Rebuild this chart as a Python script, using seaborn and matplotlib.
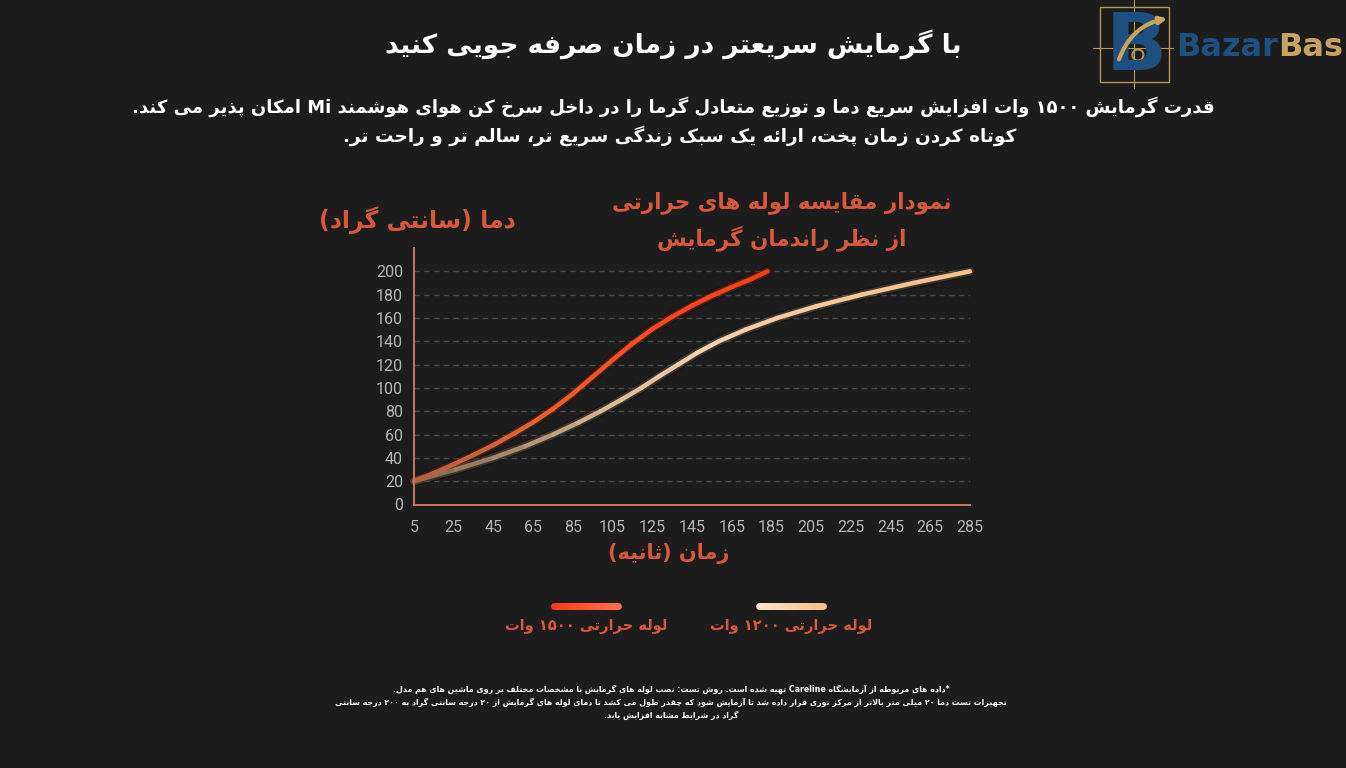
import re
import numpy as np
import pandas as pd
import matplotlib
matplotlib.use("Agg")
import matplotlib.pyplot as plt
import matplotlib.patheffects as pe
from matplotlib.collections import LineCollection
from matplotlib.colors import LinearSegmentedColormap
from matplotlib.patches import Rectangle, Circle
import seaborn as sns

# values (time in seconds, temperature in C)
time_1500 = [5, 15, 25, 35, 45, 55, 65, 75, 85, 95, 105, 115, 125, 135, 145, 155, 165, 175, 183]
temp_1500 = [20, 27, 34.5, 42.5, 51, 60.5, 70.5, 82, 95, 109.5, 124, 138, 150.5, 161, 170.5, 179, 186.5, 193.5, 200]
time_1200 = [5, 26, 45, 61, 75, 87.5, 99, 109.5, 119.5, 128.5, 138, 147.5, 158.5, 172, 188, 207.5, 230.5, 256.5, 285]
temp_1200 = [20, 30, 40, 50, 60, 70, 80, 90, 100, 110, 120, 130, 140, 150, 160, 170, 180, 190, 200]

x_ticks = [5, 25, 45, 65, 85, 105, 125, 145, 165, 185, 205, 225, 245, 265, 285]
y_ticks = [0, 20, 40, 60, 80, 100, 120, 140, 160, 180, 200]

series_names = ["لوله حرارتی ۱۵۰۰ وات", "لوله حرارتی ۱۲۰۰ وات"]

title = "با گرمایش سریعتر در زمان صرفه جویی کنید"
subtitle = ["قدرت گرمایش ۱۵۰۰ وات افزایش سریع دما و توزیع متعادل گرما را در داخل سرخ کن هوای هوشمند Mi امکان پذیر می کند.",
            "کوتاه کردن زمان پخت، ارائه یک سبک زندگی سریع تر، سالم تر و راحت تر."]
chart_title = ["نمودار مقایسه لوله های حرارتی", "از نظر راندمان گرمایش"]
y_label = "دما (سانتی گراد)"
x_label = "زمان (ثانیه)"
footnote = ["*داده های مربوطه از آزمایشگاه Careline تهیه شده است. روش تست: نصب لوله های گرمایش با مشخصات مختلف بر روی ماشین های هم مدل.",
            "تجهیزات تست دما ۲۰ میلی متر بالاتر از مرکز توری قرار داده شد تا آزمایش شود که چقدر طول می کشد تا دمای لوله های گرمایش از ۲۰ درجه سانتی گراد به ۲۰۰ درجه سانتی",
            "گراد در شرایط مشابه افزایش یابد."]

# --- tiny persian shaper (matplotlib has no arabic shaping / bidi) ---
FORMS = {
    '\u0627': ('\uFE8D', '\uFE8E', None, None),
    '\u0622': ('\uFE81', '\uFE82', None, None),
    '\u0628': ('\uFE8F', '\uFE90', '\uFE91', '\uFE92'),
    '\u067E': ('\uFB56', '\uFB57', '\uFB58', '\uFB59'),
    '\u062A': ('\uFE95', '\uFE96', '\uFE97', '\uFE98'),
    '\u062B': ('\uFE99', '\uFE9A', '\uFE9B', '\uFE9C'),
    '\u062C': ('\uFE9D', '\uFE9E', '\uFE9F', '\uFEA0'),
    '\u0686': ('\uFB7A', '\uFB7B', '\uFB7C', '\uFB7D'),
    '\u062D': ('\uFEA1', '\uFEA2', '\uFEA3', '\uFEA4'),
    '\u062E': ('\uFEA5', '\uFEA6', '\uFEA7', '\uFEA8'),
    '\u062F': ('\uFEA9', '\uFEAA', None, None),
    '\u0630': ('\uFEAB', '\uFEAC', None, None),
    '\u0631': ('\uFEAD', '\uFEAE', None, None),
    '\u0632': ('\uFEAF', '\uFEB0', None, None),
    '\u0698': ('\uFB8A', '\uFB8B', None, None),
    '\u0633': ('\uFEB1', '\uFEB2', '\uFEB3', '\uFEB4'),
    '\u0634': ('\uFEB5', '\uFEB6', '\uFEB7', '\uFEB8'),
    '\u0635': ('\uFEB9', '\uFEBA', '\uFEBB', '\uFEBC'),
    '\u0636': ('\uFEBD', '\uFEBE', '\uFEBF', '\uFEC0'),
    '\u0637': ('\uFEC1', '\uFEC2', '\uFEC3', '\uFEC4'),
    '\u0638': ('\uFEC5', '\uFEC6', '\uFEC7', '\uFEC8'),
    '\u0639': ('\uFEC9', '\uFECA', '\uFECB', '\uFECC'),
    '\u063A': ('\uFECD', '\uFECE', '\uFECF', '\uFED0'),
    '\u0641': ('\uFED1', '\uFED2', '\uFED3', '\uFED4'),
    '\u0642': ('\uFED5', '\uFED6', '\uFED7', '\uFED8'),
    '\u06A9': ('\uFB8E', '\uFB8F', '\uFB90', '\uFB91'),
    '\u06AF': ('\uFB92', '\uFB93', '\uFB94', '\uFB95'),
    '\u0644': ('\uFEDD', '\uFEDE', '\uFEDF', '\uFEE0'),
    '\u0645': ('\uFEE1', '\uFEE2', '\uFEE3', '\uFEE4'),
    '\u0646': ('\uFEE5', '\uFEE6', '\uFEE7', '\uFEE8'),
    '\u0647': ('\uFEE9', '\uFEEA', '\uFEEB', '\uFEEC'),
    '\u0648': ('\uFEED', '\uFEEE', None, None),
    '\u06CC': ('\uFBFC', '\uFBFD', '\uFBFE', '\uFBFF'),
    '\u0626': ('\uFE89', '\uFE8A', '\uFE8B', '\uFE8C'),
}
LAM_ALEF = {'\u0627': ('\uFEFB', '\uFEFC'), '\u0622': ('\uFEF5', '\uFEF6')}


def shape(s):
    s = s.replace('\u064A', '\u06CC').replace('\u0643', '\u06A9')
    out, i = [], 0
    while i < len(s):
        c = s[i]
        if c not in FORMS:
            out.append(c)
            i += 1
            continue
        prev = s[i - 1] if i else ''
        joins_prev = prev in FORMS and FORMS[prev][2] is not None
        nxt = s[i + 1] if i + 1 < len(s) else ''
        if c == '\u0644' and nxt in LAM_ALEF:
            out.append(LAM_ALEF[nxt][1] if joins_prev else LAM_ALEF[nxt][0])
            i += 2
            continue
        joins_next = FORMS[c][2] is not None and nxt in FORMS
        iso, fin, ini, med = FORMS[c]
        if joins_prev and joins_next:
            out.append(med)
        elif joins_prev:
            out.append(fin)
        elif joins_next:
            out.append(ini)
        else:
            out.append(iso)
        i += 1
    return ''.join(out)


def fa(s):
    tokens = re.findall(r'[A-Za-z0-9\u06F0-\u06F9]+|.', shape(s))
    mirror = {'(': ')', ')': '('}
    return ''.join(mirror.get(t, t) for t in reversed(tokens))


# --- style ---
bg = "#1c1c1c"
accent = "#d9573a"
sns.set_style("dark", {"axes.facecolor": bg, "figure.facecolor": bg})
plt.rcParams['font.family'] = ['DejaVu Sans']

W, H = 1346, 768
fig = plt.figure(figsize=(W / 100, H / 100), dpi=100)
fig.patch.set_facecolor(bg)

# overlay axes in pixel coordinates for texts, legend and logo
deco = fig.add_axes([0, 0, 1, 1])
deco.set_xlim(0, W)
deco.set_ylim(H, 0)
deco.axis("off")

deco.text(673, 44, fa(title), color="white", fontsize=19, fontweight="bold", ha="center", va="center")
deco.text(673, 107, fa(subtitle[0]), color="white", fontsize=13, fontweight="bold", ha="center", va="center")
deco.text(680, 136, fa(subtitle[1]), color="white", fontsize=13.3, fontweight="bold", ha="center", va="center")
deco.text(782, 203, fa(chart_title[0]), color=accent, fontsize=15.5, fontweight="bold", ha="center", va="center")
deco.text(782, 238, fa(chart_title[1]), color=accent, fontsize=15.5, fontweight="bold", ha="center", va="center")
deco.text(417, 220, fa(y_label), color=accent, fontsize=17, fontweight="bold", ha="center", va="center")
deco.text(669, 553, fa(x_label), color=accent, fontsize=15, fontweight="bold", ha="center", va="center")
for line, yy in zip(footnote, [689, 702, 715]):
    deco.text(671, yy, fa(line), color="white", fontsize=5.7, fontweight="bold", ha="center", va="center")

cmap_1500 = LinearSegmentedColormap.from_list("c1500", ["#b5613f", "#e2612f", "#ff4a22", "#ff3b1a"])
cmap_1200 = LinearSegmentedColormap.from_list("c1200", ["#8c6f52", "#d9b894", "#f4d3b0", "#f6c38c"])
legend_cmaps = [LinearSegmentedColormap.from_list("l1", ["#ff3b1a", "#ff6d4c"]),
                LinearSegmentedColormap.from_list("l2", ["#f8e4d0", "#f5c38c"])]

# legend: gradient pills with labels
for name, cm, cx in zip(series_names, legend_cmaps, [586, 791]):
    xs = np.linspace(cx - 32, cx + 32, 40)
    pts = np.column_stack([xs, np.full_like(xs, 606)]).reshape(-1, 1, 2)
    segs = np.concatenate([pts[:-1], pts[1:]], axis=1)
    lc = LineCollection(segs, cmap=cm, linewidths=5, capstyle="round")
    lc.set_array(np.linspace(0, 1, len(segs)))
    deco.add_collection(lc)
    deco.text(cx, 627, fa(name), color=accent, fontsize=10.5, fontweight="bold", ha="center", va="center")

# logo
gold = "#b8954f"
blue = "#1d4f80"
deco.add_patch(Rectangle((1100, 7), 69, 75, fill=False, edgecolor=gold, lw=1))
deco.plot([1093, 1173], [48, 48], color=gold, lw=0.8)
deco.plot([1134, 1134], [0, 88], color=gold, lw=0.8)
deco.text(1136, 48, "B", color=blue, fontsize=58, fontweight="bold", ha="center", va="center")
deco.add_patch(Circle((1138, 55), 5.5, fill=False, edgecolor=gold, lw=1.5))
deco.annotate("", xy=(1170, 18), xytext=(1118, 62),
              arrowprops=dict(arrowstyle="-|>", color="#c9a45c", lw=3, connectionstyle="arc3,rad=-0.3"))
t1 = deco.text(1176, 48, "Bazar", color=blue, fontsize=23, fontweight="bold", ha="left", va="center")
deco.annotate("Bas", xy=(1, 0.5), xycoords=t1, color="#c6a263", fontsize=23, fontweight="bold",
              ha="left", va="center")

# --- chart ---
ax = fig.add_axes([414 / W, 1 - 504.5 / H, (970 - 414) / W, (504.5 - 248) / H])
ax.set_facecolor("none")

df = pd.concat([
    pd.DataFrame({"time": time_1500, "temp": temp_1500, "tube": series_names[0]}),
    pd.DataFrame({"time": time_1200, "temp": temp_1200, "tube": series_names[1]}),
])
sns.lineplot(data=df, x="time", y="temp", hue="tube", sort=False, legend=False, ax=ax,
             palette=["#ff5a30", "#f0caa0"], lw=6, alpha=0.18)
for line in ax.lines:
    line.set_path_effects([pe.Stroke(linewidth=8, foreground="black", alpha=0.22), pe.Normal()])
    line.set_solid_capstyle("round")
    line.set_solid_joinstyle("round")
    line.set_clip_on(False)

for tx, ty, cm in [(time_1200, temp_1200, cmap_1200), (time_1500, temp_1500, cmap_1500)]:
    pts = np.column_stack([tx, ty]).reshape(-1, 1, 2)
    segs = np.concatenate([pts[:-1], pts[1:]], axis=1)
    lc = LineCollection(segs, cmap=cm, linewidths=3.2, capstyle="round", joinstyle="round")
    lc.set_array(np.linspace(0, 1, len(segs)))
    lc.set_clip_on(False)
    ax.add_collection(lc)

ax.set_xlim(5, 285)
ax.set_ylim(0, 220)
ax.set_xticks(x_ticks)
ax.set_yticks(y_ticks)
ax.set_xlabel("")
ax.set_ylabel("")
ax.tick_params(axis="both", length=0, colors="#b5b5b5", labelsize=11.5)
ax.tick_params(axis="x", pad=11)
ax.tick_params(axis="y", pad=8)
ax.grid(False)
ax.yaxis.grid(True, color="#4a4a4a", linestyle=(0, (4, 3)), lw=1)
for t in ax.get_xticklabels() + ax.get_yticklabels():
    t.set_fontfamily(["Liberation Sans Narrow", "Roboto", "DejaVu Sans"])
for side in ["top", "right"]:
    ax.spines[side].set_visible(False)
for side in ["left", "bottom"]:
    ax.spines[side].set_visible(True)
    ax.spines[side].set_color("#c8775c")
    ax.spines[side].set_linewidth(1.4)
ax.set_axisbelow(True)

fig.savefig("out.png", dpi=100, facecolor=bg)
